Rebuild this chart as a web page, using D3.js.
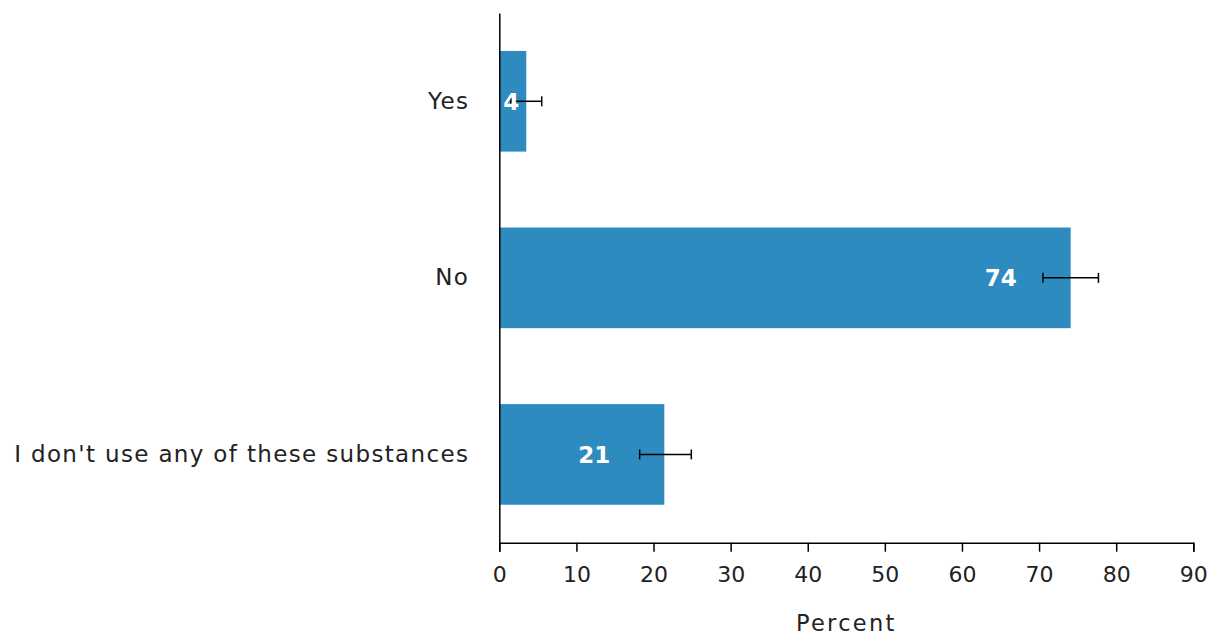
<!DOCTYPE html>
<html><head><meta charset="utf-8">
<script src="https://cdn.jsdelivr.net/npm/d3@7"></script>
<style>
body{margin:0;background:#fff;}
svg text{font-family:"DejaVu Sans",sans-serif;}
</style></head>
<body><svg id="c" width="1213" height="637"></svg>
<script>
const categories = ["Yes", "No", "I don't use any of these substances"];
const values = [3.5, 74.1, 21.4];
const errLow = [1.5, 70.5, 18.2];
const errHigh = [5.5, 77.7, 24.9];
const labels = ["4", "74", "21"];
const xTicks = [0,10,20,30,40,50,60,70,80,90];
const xTitle = "Percent";

const FONT = "'DejaVu Sans',sans-serif";
const LS = "1.35px";
const FS = "23px";
const svg = d3.select("#c");
const m = {left:499.3, right:1213-1193.3, top:13, bottom:637-542.7};
const W = 1213, H = 637;
const x = d3.scaleLinear().domain([0,90]).range([m.left, W-m.right]);
const y = d3.scaleBand().domain(categories).range([m.top, H-m.bottom]).paddingInner(0.43).paddingOuter(0.215);

const g = svg.append("g");
g.selectAll("rect.bar").data(categories).join("rect")
  .attr("x", x(0)).attr("y", d=>y(d))
  .attr("width", (d,i)=>x(values[i])-x(0)).attr("height", y.bandwidth())
  .attr("fill", "#2E8BC0");

// error bars
const eb = g.selectAll("g.eb").data(categories).join("g");
eb.append("line").attr("x1",(d,i)=>x(errLow[i])).attr("x2",(d,i)=>x(errHigh[i]))
  .attr("y1",d=>y(d)+y.bandwidth()/2).attr("y2",d=>y(d)+y.bandwidth()/2)
  .attr("stroke","#000").attr("stroke-width",1.5);
eb.append("line").attr("x1",(d,i)=>x(errLow[i])).attr("x2",(d,i)=>x(errLow[i]))
  .attr("y1",d=>y(d)+y.bandwidth()/2-5).attr("y2",d=>y(d)+y.bandwidth()/2+5)
  .attr("stroke","#000").attr("stroke-width",1.5);
eb.append("line").attr("x1",(d,i)=>x(errHigh[i])).attr("x2",(d,i)=>x(errHigh[i]))
  .attr("y1",d=>y(d)+y.bandwidth()/2-5).attr("y2",d=>y(d)+y.bandwidth()/2+5)
  .attr("stroke","#000").attr("stroke-width",1.5);

// value labels
g.selectAll("text.val").data(categories).join("text")
  .attr("x",(d,i)=>Math.max(x(values[i])-70, x(0)+12))
  .attr("y",d=>y(d)+y.bandwidth()/2)
  .attr("dy","0.36em").attr("text-anchor","middle")
  .attr("fill","#fff").attr("font-weight","bold").attr("font-size","23px")
  .attr("font-family",FONT)
  .text((d,i)=>labels[i]);

// x axis
const xa = svg.append("g").attr("transform",`translate(0,${H-m.bottom})`)
  .call(d3.axisBottom(x).tickValues(xTicks).tickSize(9).tickPadding(15).tickFormat(d3.format("d")));
xa.select(".domain").attr("stroke","#000").attr("stroke-width",1.5);
xa.selectAll(".tick line").attr("stroke","#000").attr("stroke-width",1.5);
xa.selectAll("text").attr("font-size","22px").attr("fill","#222").attr("font-family",FONT);

// y axis
const ya = svg.append("g").attr("transform",`translate(${x(0)},0)`)
  .call(d3.axisLeft(y).tickSize(0).tickPadding(30));
ya.select(".domain").attr("stroke","#000").attr("stroke-width",1.5);
ya.selectAll("text").attr("font-size",FS).attr("fill","#222").attr("font-family",FONT)
  .attr("letter-spacing",LS);

svg.append("text").attr("x",(x(0)+x(90))/2).attr("y",631).attr("text-anchor","middle")
  .attr("font-size","22.5px").attr("fill","#222").attr("font-family",FONT).attr("letter-spacing","2.3px").text(xTitle);
</script></body></html>
